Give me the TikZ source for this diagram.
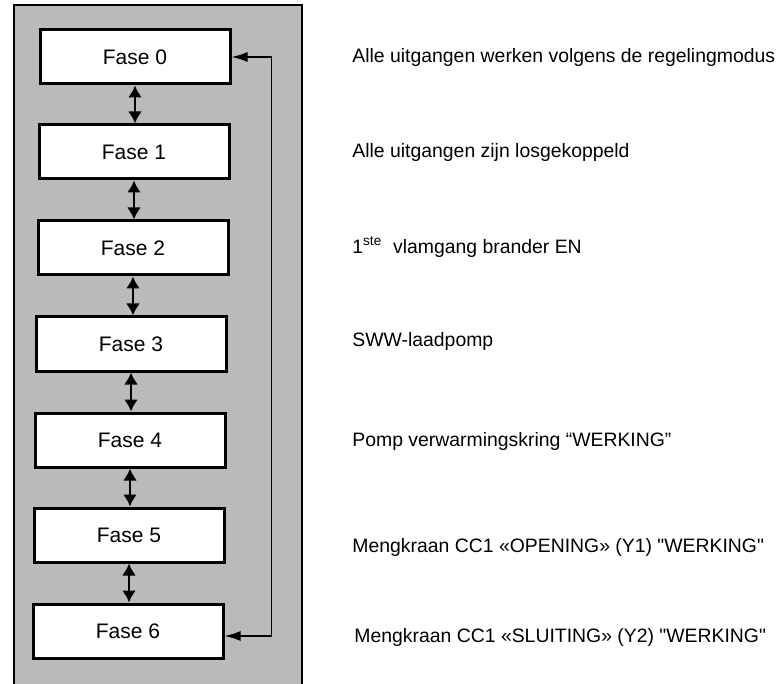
\documentclass[tikz,border=0pt]{standalone}
\usepackage{fontspec}
\newfontfamily\arial{Liberation Sans}
\usetikzlibrary{arrows.meta}
\tikzset{
  fase/.style={draw, line width=1.5pt, fill=white, minimum width=95pt, minimum height=27pt, font=\arial\fontsize{10.5}{12}\selectfont},
  uitleg/.style={anchor=west, inner sep=0pt, font=\arial\fontsize{9.7}{11}\selectfont},
  pijl/.style={{Latex[length=6pt,width=7pt]}-{Latex[length=6pt,width=7pt]}, line width=1.4pt},
  terug/.style={{Latex[length=8pt,width=5pt]}-{Latex[length=8pt,width=5pt]}, line width=0.9pt}
}
\begin{document}
\begin{tikzpicture}[x=0.5pt, y=-0.5pt]
	\useasboundingbox (0,0) rectangle (782,684);
	\draw[line width=1pt, fill=black!27] (14,5) rectangle (302,700);
	\node[fase] (f0) at (135,57) {Fase 0};
	\node[fase] (f1) at (134,152) {Fase 1};
	\node[fase] (f2) at (133,248) {Fase 2};
	\node[fase] (f3) at (131,344) {Fase 3};
	\node[fase] (f4) at (130,440) {Fase 4};
	\node[fase] (f5) at (129,535) {Fase 5};
	\node[fase] (f6) at (128,631) {Fase 6};
	\draw[pijl] (f0.south) -- (f0.south |- f1.north);
	\draw[pijl] (f1.south) -- (f1.south |- f2.north);
	\draw[pijl] (f2.south) -- (f2.south |- f3.north);
	\draw[pijl] (f3.south) -- (f3.south |- f4.north);
	\draw[pijl] (f4.south) -- (f4.south |- f5.north);
	\draw[pijl] (f5.south) -- (f5.south |- f6.north);
	\draw[terug] (f0.east) -- ++(40,0) |- ([yshift=-2.5pt]f6.east);
	\node[uitleg] (t0) at (352,57) {Alle uitgangen werken volgens de regelingmodus};
	\node[uitleg] (t1) at (352,152) {Alle uitgangen zijn losgekoppeld};
	\node[uitleg] (t2) at (352,247) {1\textsuperscript{ste}\ \ vlamgang brander EN};
	\node[uitleg] (t3) at (352,341) {SWW-laadpomp};
	\node[uitleg] (t4) at (352,441) {Pomp verwarmingskring “WERKING”};
	\node[uitleg] (t5) at (352,547) {Mengkraan CC1 «OPENING» (Y1) "WERKING"};
	\node[uitleg] (t6) at (354,637) {Mengkraan CC1 «SLUITING» (Y2) "WERKING"};
\end{tikzpicture}
\end{document}
